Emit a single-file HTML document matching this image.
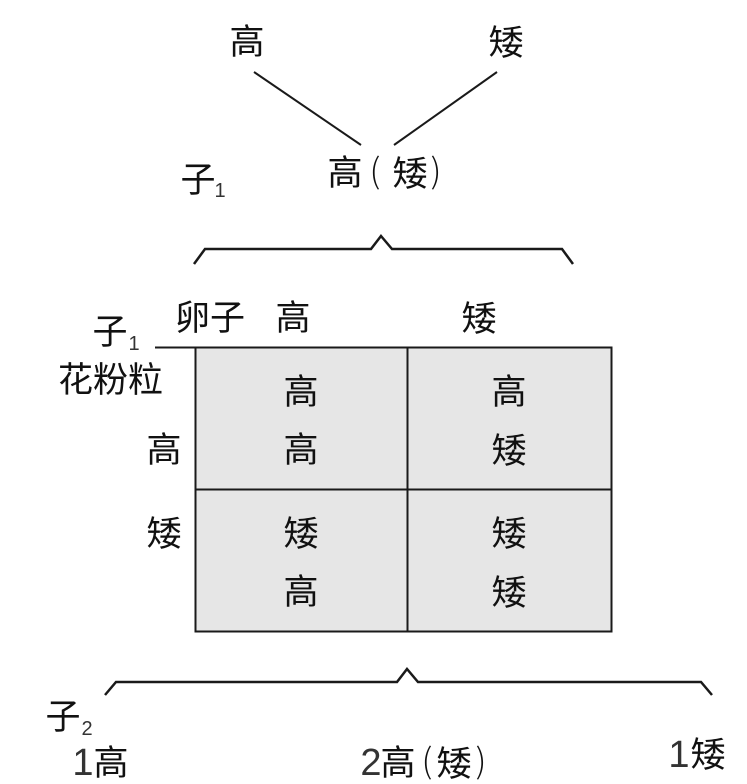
<!DOCTYPE html>
<html><head><meta charset="utf-8">
<style>
html,body{margin:0;padding:0;background:#fff}
svg{display:block}
text{font-family:"WenQuanYi Zen Hei","Noto Sans CJK SC",sans-serif;fill:#111;font-size:35px;text-anchor:middle}
.n{font-family:"Noto Sans CJK SC","Liberation Sans",sans-serif;font-weight:300;font-size:34px}
.s{font-family:"Liberation Sans",Arial,sans-serif;font-size:20px;fill:#333}
.d{font-family:"Liberation Sans",Arial,sans-serif;font-size:38px;fill:#333}
</style></head><body>
<svg width="747" height="784" viewBox="0 0 747 784" xmlns="http://www.w3.org/2000/svg">
<rect x="195.500" y="347.500" width="416" height="284" fill="#e6e6e6" stroke="#1a1a1a" stroke-width="2"/>
<path d="M407.500 347V631M195 489.500H611M155 347.500H195" stroke="#1a1a1a" stroke-width="2" fill="none"/>
<path d="M254 72L361 145M394 145L497 72" stroke="#1a1a1a" stroke-width="2" fill="none"/>
<path d="M194 264L205 249H371L381 236L392 249H562L573 264" stroke="#1a1a1a" stroke-width="2.500" fill="none"/>
<path d="M105 695L116 682H397L407 669L418 682H701L712 695" stroke="#1a1a1a" stroke-width="2.500" fill="none"/>
<text x="247" y="54">高</text>
<text x="506" y="55">矮</text>
<text x="345" y="185">高</text>
<text class="n" x="375" y="183">(</text>
<text x="410" y="186">矮</text>
<text class="n" x="436" y="183">)</text>
<text x="198" y="192">子</text>
<text class="s" x="220" y="197">1</text>
<text x="210" y="330">卵子</text>
<text x="293" y="330">高</text>
<text x="479" y="331">矮</text>
<text x="110" y="344">子</text>
<text class="s" x="134" y="350">1</text>
<text x="110.500" y="392">花粉粒</text>
<text x="164" y="462">高</text>
<text x="164" y="546">矮</text>
<text x="301" y="404">高</text>
<text x="301" y="462">高</text>
<text x="509" y="404">高</text>
<text x="509" y="463">矮</text>
<text x="301" y="546">矮</text>
<text x="301" y="604">高</text>
<text x="509" y="546">矮</text>
<text x="509" y="605">矮</text>
<text x="63" y="729">子</text>
<text class="s" x="87" y="735">2</text>
<text class="d" x="83" y="775">1</text>
<text x="111" y="775">高</text>
<text class="d" x="371" y="775">2</text>
<text x="398" y="775">高</text>
<text class="n" x="427" y="773">(</text>
<text x="454" y="776">矮</text>
<text class="n" x="481" y="773">)</text>
<text class="d" x="679" y="767">1</text>
<text x="708" y="767">矮</text>
</svg>
</body></html>
